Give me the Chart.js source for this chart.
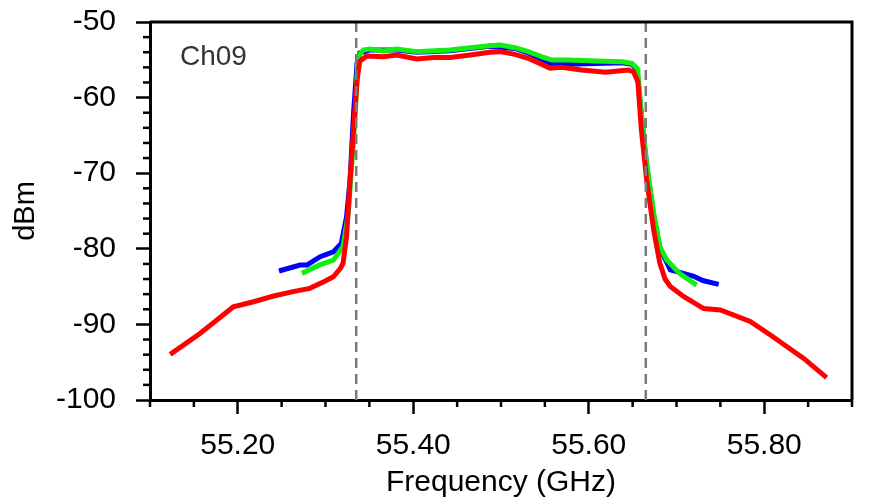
<!DOCTYPE html>
<html>
<head>
<meta charset="utf-8">
<script src="https://cdn.jsdelivr.net/npm/chart.js@4/dist/chart.umd.min.js"></script>
<style>
html,body{margin:0;padding:0;background:#fff;}
#wrap{width:891px;height:504px;position:relative;}
</style>
</head>
<body>
<div id="wrap"><canvas id="c" width="891" height="504"></canvas></div>
<script>
// ---- data ----
const redFreq = [55.123, 55.157, 55.195, 55.218, 55.241, 55.263, 55.282, 55.298, 55.309, 55.317, 55.320, 55.324, 55.328, 55.332, 55.336, 55.339, 55.347, 55.366, 55.381, 55.404, 55.423, 55.442, 55.465, 55.487, 55.499, 55.516, 55.531, 55.546, 55.556, 55.569, 55.592, 55.619, 55.645, 55.651, 55.656, 55.660, 55.666, 55.674, 55.681, 55.687, 55.693, 55.708, 55.731, 55.750, 55.784, 55.807, 55.845, 55.871];
const redDbm  = [-93.96, -91.2, -87.66, -87.0, -86.24, -85.67, -85.23, -84.35, -83.7, -82.6, -81.9, -78.4, -70.9, -64.3, -57.7, -55.2, -54.5, -54.6, -54.37, -54.9, -54.7, -54.7, -54.37, -54.0, -53.92, -54.28, -54.8, -55.6, -56.1, -56.0, -56.35, -56.65, -56.35, -56.57, -57.9, -64.3, -70.9, -77.5, -81.9, -84.0, -85.0, -86.3, -87.9, -88.1, -89.6, -91.4, -94.5, -97.05];

const greenFreq = [55.273, 55.294, 55.309, 55.320, 55.326, 55.330, 55.334, 55.337, 55.343, 55.351, 55.366, 55.381, 55.404, 55.419, 55.442, 55.465, 55.487, 55.499, 55.516, 55.531, 55.546, 55.558, 55.577, 55.607, 55.638, 55.649, 55.655, 55.656, 55.660, 55.666, 55.674, 55.681, 55.689, 55.704, 55.723];
const greenDbm  = [-83.25, -82.1, -81.5, -79.7, -75.3, -68.7, -62.0, -54.6, -53.7, -53.57, -53.84, -53.57, -53.92, -53.84, -53.7, -53.4, -53.13, -53.04, -53.4, -53.92, -54.58, -55.03, -55.03, -55.16, -55.25, -55.47, -56.1, -56.8, -62.1, -68.7, -75.3, -79.7, -81.5, -83.3, -84.8];

const blueFreq = [55.247, 55.271, 55.279, 55.294, 55.309, 55.318, 55.324, 55.328, 55.332, 55.336, 55.339, 55.351, 55.381, 55.404, 55.442, 55.487, 55.516, 55.531, 55.546, 55.556, 55.577, 55.607, 55.638, 55.649, 55.655, 55.660, 55.666, 55.674, 55.681, 55.693, 55.708, 55.719, 55.730, 55.748];
const blueDbm  = [-82.94, -82.14, -82.14, -81.05, -80.4, -79.3, -75.75, -70.9, -62.0, -55.4, -54.1, -53.7, -53.7, -54.0, -53.8, -53.2, -53.5, -54.1, -54.9, -55.5, -55.6, -55.5, -55.4, -55.6, -56.3, -62.5, -69.0, -75.6, -79.9, -82.8, -83.25, -83.6, -84.2, -84.7];

const bandEdges = [55.335, 55.665];
const channelLabel = 'Ch09';

const xTickValues = [55.10, 55.15, 55.20, 55.25, 55.30, 55.35, 55.40, 55.45, 55.50, 55.55, 55.60, 55.65, 55.70, 55.75, 55.80, 55.85, 55.90];
const xMajorLabels = [55.20, 55.40, 55.60, 55.80];
const yTickValues = [-100, -98, -96, -94, -92, -90, -88, -86, -84, -82, -80, -78, -76, -74, -72, -70, -68, -66, -64, -62, -60, -58, -56, -54, -52, -50];
const yMajorLabels = [-100, -90, -80, -70, -60, -50];

// ---- helpers ----
const pts = (xs, ys) => xs.map((x, i) => ({x: x, y: ys[i]}));
const isXMajor = v => xMajorLabels.some(m => Math.abs(m - v) < 1e-6);
const isYMajor = v => yMajorLabels.some(m => Math.abs(m - v) < 1e-6);

Chart.defaults.font.family = "'Liberation Sans', Arial, Helvetica, sans-serif";
Chart.defaults.color = '#000';

const framePlugin = {
  id: 'frame',
  afterDatasetsDraw(chart) {
    const {ctx, chartArea: a, scales: {x, y}} = chart;
    ctx.save();
    // dashed band edges
    ctx.strokeStyle = '#7a7a7a';
    ctx.lineWidth = 2.5;
    ctx.setLineDash([10, 6]);
    bandEdges.forEach(f => {
      const px = x.getPixelForValue(f);
      ctx.beginPath();
      ctx.moveTo(px, a.top);
      ctx.lineTo(px, a.bottom);
      ctx.stroke();
    });
    ctx.setLineDash([]);
    // channel label
    ctx.fillStyle = '#333';
    ctx.font = "28px 'Liberation Sans', Arial, sans-serif";
    ctx.textBaseline = 'alphabetic';
    ctx.textAlign = 'left';
    ctx.fillText(channelLabel, a.left + 30, a.top + 43);
    ctx.restore();
  },
  afterDraw(chart) {
    const {ctx, chartArea: a, scales: {x, y}} = chart;
    ctx.save();
    ctx.strokeStyle = '#000';
    // minor ticks
    ctx.lineWidth = 2.5;
    xTickValues.forEach(v => {
      if (isXMajor(v)) return;
      const px = x.getPixelForValue(v);
      ctx.beginPath(); ctx.moveTo(px, a.bottom); ctx.lineTo(px, a.bottom + 7); ctx.stroke();
    });
    yTickValues.forEach(v => {
      if (isYMajor(v)) return;
      const py = y.getPixelForValue(v);
      ctx.beginPath(); ctx.moveTo(a.left - 7, py); ctx.lineTo(a.left, py); ctx.stroke();
    });
    // top & right frame
    ctx.lineWidth = 3;
    ctx.beginPath();
    ctx.moveTo(a.left, a.top); ctx.lineTo(a.right, a.top); ctx.lineTo(a.right, a.bottom);
    ctx.stroke();
    ctx.restore();
  }
};

const lineDs = (label, xs, ys, color, order) => ({
  label: label,
  data: pts(xs, ys),
  borderColor: color,
  backgroundColor: color,
  borderWidth: 5,
  pointRadius: 0,
  tension: 0,
  fill: false,
  order: order
});

new Chart(document.getElementById('c'), {
  type: 'line',
  data: {
    datasets: [
      lineDs('red', redFreq, redDbm, '#ff0000', 0),
      lineDs('green', greenFreq, greenDbm, '#11ee11', 1),
      lineDs('blue', blueFreq, blueDbm, '#0000ff', 2)
    ]
  },
  options: {
    responsive: false,
    animation: false,
    events: [],
    layout: {padding: {top: 22, right: 39, bottom: 0, left: 0}},
    plugins: {legend: {display: false}, tooltip: {enabled: false}},
    scales: {
      x: {
        type: 'linear',
        min: 55.10, max: 55.90,
        afterBuildTicks: s => { s.ticks = xTickValues.map(v => ({value: v})); },
        afterFit: s => { s.height = 104; s.paddingLeft = 0; s.paddingRight = 0; },
        ticks: {
          autoSkip: false, maxRotation: 0, padding: 14,
          font: {size: 30},
          callback: v => isXMajor(v) ? v.toFixed(2) : ''
        },
        grid: {
          drawOnChartArea: false, drawTicks: true, tickLength: 14, tickWidth: 2.5,
          tickColor: c => (c.tick && isXMajor(c.tick.value)) ? '#000' : 'rgba(0,0,0,0)'
        },
        border: {display: true, width: 3, color: '#000'},
        title: {display: true, text: 'Frequency (GHz)', font: {size: 30}, padding: {top: 0, bottom: 3}}
      },
      y: {
        type: 'linear',
        min: -100, max: -50,
        afterBuildTicks: s => { s.ticks = yTickValues.map(v => ({value: v})); },
        afterFit: s => { s.width = 150; s.paddingTop = 0; s.paddingBottom = 0; },
        ticks: {
          autoSkip: false, padding: 20,
          font: {size: 30},
          callback: v => isYMajor(v) ? String(v) : ''
        },
        grid: {
          drawOnChartArea: false, drawTicks: true, tickLength: 14, tickWidth: 2.5,
          tickColor: c => (c.tick && isYMajor(c.tick.value)) ? '#000' : 'rgba(0,0,0,0)'
        },
        border: {display: true, width: 3, color: '#000'},
        title: {display: true, text: 'dBm', font: {size: 29}, padding: {top: 9, bottom: 0}}
      }
    }
  },
  plugins: [framePlugin]
});
</script>
</body>
</html>
